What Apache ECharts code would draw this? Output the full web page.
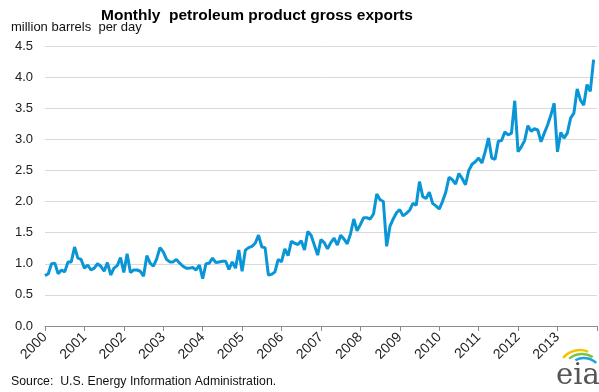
<!DOCTYPE html>
<html>
<head>
<meta charset="utf-8">
<script src="https://cdn.jsdelivr.net/npm/echarts@6/dist/echarts.min.js"></script>
<style>
html,body{margin:0;padding:0;background:#fff;}
#chart{width:599px;height:392px;}
</style>
</head>
<body>
<div id="chart"></div>
<script>
// Years shown on the axis
var years = ['2000','2001','2002','2003','2004','2005','2006','2007','2008','2009','2010','2011','2012','2013'];
// Y-axis tick labels
var yTicks = ['0.0','0.5','1.0','1.5','2.0','2.5','3.0','3.5','4.0','4.5'];
// Monthly petroleum product gross exports, million barrels per day
var v2000 = [0.81, 0.84, 1.00, 1.01, 0.84, 0.90, 0.87, 1.03, 1.03, 1.27, 1.09, 1.07];
var v2001 = [0.93, 0.98, 0.90, 0.93, 1.00, 0.96, 0.88, 1.02, 0.82, 0.93, 0.97, 1.10];
var v2002 = [0.86, 1.16, 0.86, 0.90, 0.90, 0.88, 0.80, 1.13, 1.01, 0.96, 1.08, 1.26];
var v2003 = [1.19, 1.07, 1.03, 1.03, 1.07, 1.01, 0.96, 0.93, 0.93, 0.94, 0.90, 0.98];
var v2004 = [0.76, 1.00, 1.01, 1.09, 1.02, 1.03, 1.04, 1.04, 0.91, 1.03, 0.93, 1.22];
var v2005 = [0.88, 1.22, 1.26, 1.28, 1.33, 1.46, 1.27, 1.26, 0.82, 0.83, 0.87, 1.07];
var v2006 = [1.03, 1.24, 1.13, 1.36, 1.33, 1.31, 1.37, 1.22, 1.52, 1.46, 1.30, 1.14];
var v2007 = [1.39, 1.34, 1.24, 1.34, 1.41, 1.30, 1.46, 1.40, 1.32, 1.48, 1.72, 1.53];
var v2008 = [1.63, 1.74, 1.74, 1.72, 1.80, 2.12, 2.03, 2.00, 1.28, 1.60, 1.72, 1.82];
var v2009 = [1.87, 1.77, 1.81, 1.86, 1.97, 1.94, 2.32, 2.08, 2.05, 2.15, 1.97, 1.93];
var v2010 = [1.88, 2.00, 2.15, 2.39, 2.35, 2.28, 2.45, 2.37, 2.27, 2.50, 2.60, 2.64];
var v2011 = [2.70, 2.62, 2.80, 3.02, 2.70, 2.68, 2.97, 2.98, 3.12, 3.07, 3.10, 3.62];
var v2012 = [2.80, 2.88, 2.98, 3.22, 3.13, 3.17, 3.15, 2.96, 3.10, 3.23, 3.39, 3.58];
var v2013 = [2.80, 3.11, 3.02, 3.10, 3.34, 3.42, 3.81, 3.63, 3.55, 3.88, 3.77, 4.28];

var values = [].concat(v2000, v2001, v2002, v2003, v2004, v2005, v2006, v2007,
  v2008, v2009, v2010, v2011, v2012, v2013);

// month categories (plus the closing boundary Jan 2014)
var months = [];
years.forEach(function (y) {
  for (var m = 1; m <= 12; m++) months.push(y + '-' + (m < 10 ? '0' + m : m));
});
months.push('2014-01');

var chart = echarts.init(document.getElementById('chart'), null, {renderer: 'canvas'});
var font = 'Arial, "Liberation Sans", sans-serif';
chart.setOption({
  animation: false,
  backgroundColor: '#ffffff',
  title: {
    text: 'Monthly  petroleum product gross exports',
    left: 96, top: 3,
    textStyle: {fontFamily: font, fontSize: 15.5, fontWeight: 'bold', color: '#000'}
  },
  grid: {left: 45, right: 1, top: 46, bottom: 66},
  xAxis: {
    type: 'category',
    data: months,
    boundaryGap: false,
    axisLine: {lineStyle: {color: '#8c8c8c', width: 1}},
    axisTick: {show: true, interval: 11, length: 5, lineStyle: {color: '#8c8c8c'}},
    axisLabel: {
      interval: 11,
      rotate: 45,
      margin: 9,
      fontFamily: font, fontSize: 14, color: '#222',
      formatter: function (val) {
        var y = val.slice(0, 4);
        return years.indexOf(y) >= 0 ? y : '';
      }
    },
    splitLine: {show: false}
  },
  yAxis: {
    type: 'value',
    min: 0, max: 4.5, interval: 0.5,
    name: 'million barrels  per day',
    nameLocation: 'end',
    nameGap: 12,
    nameTextStyle: {fontFamily: font, fontSize: 13, color: '#111', align: 'left', padding: [0, 0, 0, -34]},
    axisLine: {show: false},
    axisTick: {show: false},
    axisLabel: {
      fontFamily: font, fontSize: 13, color: '#222', margin: 12,
      formatter: function (v) { return yTicks[Math.round(v / 0.5)]; }
    },
    splitLine: {lineStyle: {color: '#d9d9d9', width: 1}}
  },
  series: [{
    type: 'line',
    data: values,
    showSymbol: false,
    symbol: 'none',
    lineStyle: {color: '#0a96d6', width: 3},
    itemStyle: {color: '#0a96d6'}
  }],
  graphic: [
    {type: 'text', left: 11, top: 376,
     style: {text: 'Source:  U.S. Energy Information Administration.', font: '12.3px ' + font, fill: '#111'}},
    {type: 'arc', shape: {cx: 580, cy: 372, r: 22, startAngle: Math.PI * 1.22, endAngle: Math.PI * 1.62},
     style: {stroke: '#f5c400', lineWidth: 2.5, fill: null}},
    {type: 'arc', shape: {cx: 582, cy: 374, r: 20, startAngle: Math.PI * 1.28, endAngle: Math.PI * 1.68},
     style: {stroke: '#7cc242', lineWidth: 2.5, fill: null}},
    {type: 'arc', shape: {cx: 584, cy: 376, r: 18, startAngle: Math.PI * 1.34, endAngle: Math.PI * 1.74},
     style: {stroke: '#1ea0dc', lineWidth: 2.5, fill: null}},
    {type: 'text', left: 556, top: 362,
     style: {text: 'eia', font: '29px "DejaVu Serif", "Liberation Serif", serif', fill: '#555'}}
  ]
});
</script>
</body>
</html>
